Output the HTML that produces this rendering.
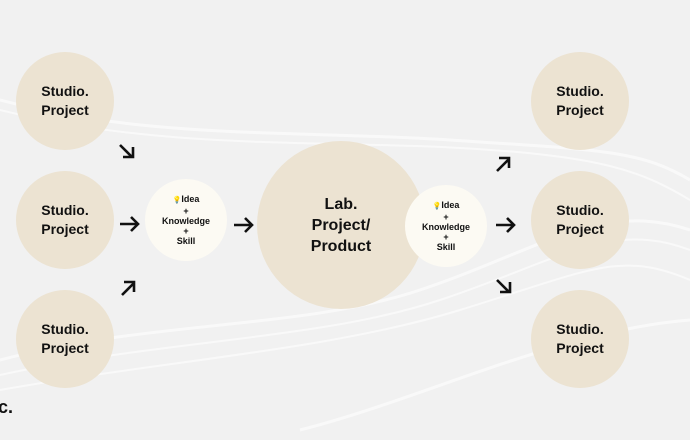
<!DOCTYPE html>
<html><head><style>
body{margin:0;width:690px;height:440px;overflow:hidden;background:#f1f1f1;font-family:"Liberation Sans",sans-serif;position:relative}
.c{position:absolute;border-radius:50%;display:flex;align-items:center;justify-content:center;text-align:center;font-weight:bold;color:#111}
.s{width:98px;height:98px;background:#ece3d2;font-size:14px;line-height:19px}
.k{width:82px;height:82px;background:#fcfaf3;font-size:9px;line-height:10px}
svg{position:absolute;left:0;top:0}
.b{color:#e8c84a;font-size:7px}
</style></head><body>
<svg width="690" height="440">
<g fill="none" stroke="#fff" stroke-opacity=".6">
<path d="M0 100 C150 140 300 130 450 140 S640 150 690 180" stroke-width="3"/>
<path d="M0 110 C160 150 320 140 460 148 S640 170 690 200" stroke-width="2"/>
<path d="M0 360 C150 320 300 330 420 290 S600 200 690 230" stroke-width="3"/>
<path d="M0 375 C160 340 320 340 440 300 S610 220 690 250" stroke-width="2"/>
<path d="M0 390 C170 360 330 350 460 310 S620 250 690 280" stroke-width="2"/>
<path d="M300 430 C420 400 560 330 690 320" stroke-width="3"/>
</g>
<g fill="none" stroke="#111" stroke-width="2.6">
<path d="M120 145 L132 157 M133 147 V157 H123"/>
<path d="M120 224 H138 M131 217 L138 224 L131 231"/>
<path d="M122 295 L134 283 M124 282 H134 V292"/>
<path d="M234 225 H252 M245 218 L252 225 L245 232"/>
<path d="M497 171 L509 159 M499 158 H509 V168"/>
<path d="M496 225 H514 M507 218 L514 225 L507 232"/>
<path d="M497 280 L509 292 M510 282 V292 H500"/>
</g>
</svg>
<div class="c s" style="left:16px;top:52px"><div>Studio.<br>Project</div></div>
<div class="c s" style="left:16px;top:171px"><div>Studio.<br>Project</div></div>
<div class="c s" style="left:16px;top:290px"><div>Studio.<br>Project</div></div>
<div class="c s" style="left:531px;top:52px"><div>Studio.<br>Project</div></div>
<div class="c s" style="left:531px;top:171px"><div>Studio.<br>Project</div></div>
<div class="c s" style="left:531px;top:290px"><div>Studio.<br>Project</div></div>
<div class="c k" style="left:145px;top:179px"><div><span class="b">💡</span>Idea<br>+<br>Knowledge<br>+<br>Skill</div></div>
<div class="c" style="left:257px;top:141px;width:168px;height:168px;background:#ece3d2;font-size:16px;line-height:21px"><div>Lab.<br>Project/<br>Product</div></div>
<div class="c k" style="left:405px;top:185px"><div><span class="b">💡</span>Idea<br>+<br>Knowledge<br>+<br>Skill</div></div>
<div style="position:absolute;left:-2px;top:397px;font-weight:bold;font-size:18px;color:#111">c.</div>
</body></html>
